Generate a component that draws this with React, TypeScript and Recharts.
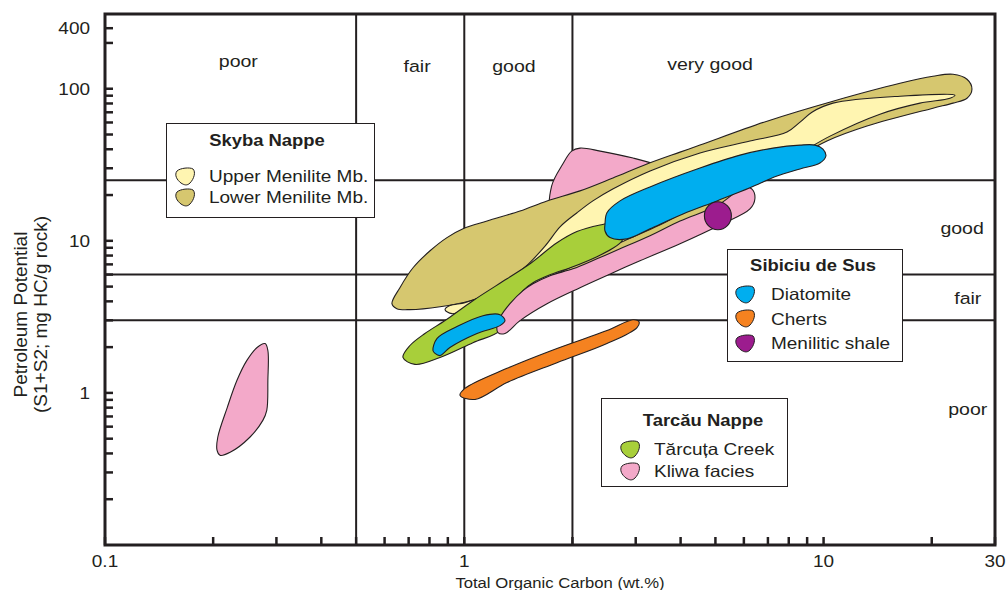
import React from 'react';
import { ScatterChart, Scatter, XAxis, YAxis, ReferenceLine, ReferenceArea } from 'recharts';

type Pt = [number, number];

const INK = '#231f20';
const FONT = "'Liberation Sans', Arial, Helvetica, sans-serif";
const WIDE = 1.15;

const COLORS = {
  upper: '#fff5b1',
  lower: '#d6c76f',
  diatomite: '#00aeef',
  cherts: '#f58220',
  shale: '#9c1c8e',
  tarcuta: '#a8cf3a',
  kliwa: '#f3a9c9',
};

// field outlines, TOC (wt.%) vs S1+S2 (mg HC/g rock)
const kliwaUpperLobe: Pt[] = [
  [1.99, 38.9], [2.1, 40.7], [2.39, 38.9], [2.95, 35.0], [3.5, 31.0], [4.25, 24.7],
  [3.29, 15.7], [2.1, 13.5], [1.75, 15.3], [1.75, 22.9], [1.88, 32.0],
];

const lowerMenilite: Pt[] = [
  [0.629, 3.86], [0.662, 4.92], [0.72, 6.65], [0.803, 8.6], [0.895, 10.5], [0.992, 12.0],
  [1.157, 13.5], [1.429, 15.7], [1.699, 18.3], [2.099, 21.3], [2.593, 25.9], [3.225, 32.0],
  [3.985, 38.3], [4.529, 42.6], [6.96, 61.2], [10.62, 82.8], [16.32, 108.6], [20.16, 120.8],
  [22.92, 124.5], [25.07, 115.4], [25.88, 99.2], [25.07, 86.6], [22.92, 80.4], [20.16, 74.5],
  [13.21, 56.8], [10.22, 45.3], [8.6, 36.1], [7.81, 31.0], [6.65, 25.5], [5.85, 21.3],
  [5.15, 17.0], [4.25, 13.1], [3.5, 10.3], [2.89, 8.6], [2.39, 7.39], [1.85, 6.17],
  [1.63, 5.81], [1.26, 4.7], [1.04, 4.04], [0.856, 3.69], [0.706, 3.53], [0.649, 3.58],
];

const upperMenilite: Pt[] = [
  [23.2, 90.7], [16.32, 89.3], [10.62, 80.4], [9.28, 70.1], [8.6, 60.3], [7.91, 51.9],
  [6.24, 45.3], [4.53, 37.8], [3.29, 28.8], [2.59, 21.9], [2.28, 18.3], [2.06, 15.3],
  [1.85, 12.4], [1.68, 9.27], [1.48, 6.75], [1.28, 5.22], [1.12, 4.3], [1.004, 3.92],
  [0.912, 3.75], [0.884, 3.53], [0.924, 3.32], [1.07, 3.69], [1.26, 4.36], [1.63, 5.47],
  [2.1, 7.17], [2.71, 9.7], [3.5, 12.7], [4.53, 17.5], [5.85, 23.6], [8.06, 34.5],
  [10.42, 48.8], [14.35, 68.0], [18.55, 80.4], [22.48, 86.6],
];

const tarcutaCreek: Pt[] = [
  [0.675, 1.71], [0.706, 2.05], [0.777, 2.46], [0.884, 2.99], [1.057, 4.04], [1.315, 5.63],
  [1.524, 7.07], [1.811, 9.7], [2.058, 11.5], [2.386, 12.7], [2.626, 13.1], [2.801, 12.0],
  [2.748, 10.0], [2.576, 8.86], [2.34, 7.86], [2.006, 6.75], [1.732, 5.98], [1.553, 5.3],
  [1.457, 4.7], [1.323, 3.37], [1.257, 2.57], [1.057, 2.14], [0.856, 1.71], [0.729, 1.54],
];

const kliwaBand: Pt[] = [
  [1.233, 2.77], [1.257, 3.13], [1.34, 3.86], [1.457, 4.7], [1.553, 5.22], [1.732, 5.9],
  [2.006, 6.55], [2.34, 7.62], [2.713, 8.86], [3.287, 10.8], [3.985, 13.5], [5.05, 17.0],
  [6.04, 22.6], [6.32, 21.9], [6.44, 18.9], [6.24, 16.2], [5.149, 12.7], [3.985, 9.56],
  [3.083, 7.39], [2.593, 6.17], [2.099, 4.92], [1.699, 3.86], [1.429, 2.99], [1.298, 2.46],
  [1.241, 2.49],
];

const diatomite: Pt[] = [
  [2.464, 12.9], [2.495, 15.3], [2.713, 18.3], [3.287, 22.6], [4.529, 30.1], [5.853, 36.6],
  [7.23, 40.7], [8.6, 42.6], [9.47, 42.6], [9.96, 40.1], [10.15, 36.1], [9.77, 32.5],
  [8.6, 29.7], [7.42, 26.7], [6.24, 22.3], [5.05, 18.3], [4.062, 15.0], [3.287, 12.0],
  [2.837, 10.3], [2.544, 10.5], [2.464, 11.6],
];

const diatomiteLow: Pt[] = [
  [0.818, 1.9], [0.84, 2.28], [0.954, 2.73], [1.127, 3.22], [1.257, 3.27], [1.298, 2.99],
  [1.257, 2.77], [1.085, 2.46], [0.912, 1.99], [0.856, 1.76], [0.829, 1.82],
];

const cherts: Pt[] = [
  [0.973, 0.963], [1.004, 1.07], [1.315, 1.45], [1.811, 1.96], [2.495, 2.57], [2.948, 3.03],
  [3.064, 2.94], [3.025, 2.69], [2.495, 2.11], [1.811, 1.58], [1.315, 1.17], [1.071, 0.906],
];

const kliwaLean: Pt[] = [
  [0.279, 2.11], [0.284, 1.9], [0.284, 1.21], [0.282, 0.768], [0.275, 0.66], [0.253, 0.511],
  [0.223, 0.407], [0.209, 0.389], [0.205, 0.42], [0.206, 0.511], [0.219, 0.804], [0.233, 1.21],
  [0.248, 1.63], [0.265, 1.99],
];

const meniliticShale: Pt[] = [[5.08, 14.6]];

// quality class limits
const TOC_LIMITS = [0.5, 1, 2];
const PP_LIMITS = [3, 6, 25];

const QUALITY_LABELS = [
  { x: 0.235, y: 149, text: 'poor' },
  { x: 0.739, y: 140, text: 'fair' },
  { x: 1.375, y: 140, text: 'good' },
  { x: 4.83, y: 143, text: 'very good' },
  { x: 24.3, y: 12.0, text: 'good' },
  { x: 25.2, y: 4.17, text: 'fair' },
  { x: 25.2, y: 0.768, text: 'poor' },
];

const X_TICKS = [0.1, 0.2, 0.3, 0.4, 0.5, 0.6, 0.7, 0.8, 0.9, 1, 2, 3, 4, 5, 6, 7, 8, 9, 10, 20, 30];
const X_LABELLED = [0.1, 1, 10, 30];
const X_TICK_LABELS = ['0.1', '1', '10', '30'];

const Y_TICKS = [
  0.2, 0.3, 0.4, 0.5, 0.6, 0.7, 0.8, 0.9, 1, 2, 3, 4, 5, 6, 7, 8, 9, 10,
  20, 30, 40, 50, 60, 70, 80, 90, 100, 200, 250,
];
const Y_LABELLED = [1, 10, 100, 250];
const Y_TICK_LABELS = ['1', '10', '100', '400'];

const toPoints = (pts: Pt[]) => pts.map(([x, y]) => ({ x, y }));

// closed centripetal Catmull-Rom outline through the projected points
function closedPath(points: { x: number; y: number }[]) {
  const n = points.length;
  if (!n) return '';
  const f = (v: number) => v.toFixed(2);
  let d = `M${f(points[0].x)},${f(points[0].y)}`;
  for (let i = 0; i < n; i++) {
    const p0 = points[(i + n - 1) % n];
    const p1 = points[i];
    const p2 = points[(i + 1) % n];
    const p3 = points[(i + 2) % n];
    const l01 = Math.max(Math.hypot(p1.x - p0.x, p1.y - p0.y), 1e-6);
    const l12 = Math.max(Math.hypot(p2.x - p1.x, p2.y - p1.y), 1e-6);
    const l23 = Math.max(Math.hypot(p3.x - p2.x, p3.y - p2.y), 1e-6);
    const a1 = Math.sqrt(l01), a2 = Math.sqrt(l12), a3 = Math.sqrt(l23);
    const m1 = 2 * l01 + 3 * a1 * a2 + l12;
    const n1 = 3 * a1 * (a1 + a2);
    const m2 = 2 * l23 + 3 * a3 * a2 + l12;
    const n2 = 3 * a3 * (a3 + a2);
    const c1x = (p2.x * l01 - p0.x * l12 + p1.x * m1) / n1;
    const c1y = (p2.y * l01 - p0.y * l12 + p1.y * m1) / n1;
    const c2x = (p1.x * l23 - p3.x * l12 + p2.x * m2) / n2;
    const c2y = (p1.y * l23 - p3.y * l12 + p2.y * m2) / n2;
    d += `C${f(c1x)},${f(c1y)} ${f(c2x)},${f(c2y)} ${f(p2.x)},${f(p2.y)}`;
  }
  return d + 'Z';
}

const fieldOutline = (fill: string) => (props: any) => (
  <path d={closedPath(props.points || [])} fill={fill} stroke={INK} strokeWidth={1.1} strokeLinejoin="round" />
);

const noMarker = () => <g />;

const WideText = ({ x, y, size, anchor = 'middle', weight = 'normal', children }: any) => (
  <text
    transform={`translate(${x},${y}) scale(${WIDE},1)`}
    textAnchor={anchor}
    fontSize={size}
    fontWeight={weight}
    fontFamily={FONT}
    fill={INK}
  >
    {children}
  </text>
);

const renderXTick = ({ x, y, payload }: any) => {
  const i = X_LABELLED.indexOf(payload.value);
  return (
    <g>
      <line x1={x} x2={x} y1={y} y2={y - 8} stroke={INK} strokeWidth={2.5} />
      {i >= 0 && <WideText x={x} y={y + 22} size={16.5}>{X_TICK_LABELS[i]}</WideText>}
    </g>
  );
};

const renderYTick = ({ x, y, payload }: any) => {
  const i = Y_LABELLED.indexOf(payload.value);
  return (
    <g>
      <line x1={x} x2={x + 8} y1={y} y2={y} stroke={INK} strokeWidth={2.5} />
      {i >= 0 && <WideText x={x - 15} y={y + 6} size={16.5} anchor="end">{Y_TICK_LABELS[i]}</WideText>}
    </g>
  );
};

const renderYTitle = ({ viewBox }: any) => {
  const cy = viewBox.y + viewBox.height / 2 + 35;
  return (
    <g fill={INK} fontFamily={FONT} fontSize={19}>
      <text transform={`translate(${viewBox.x - 18},${cy}) rotate(-90)`} textAnchor="middle">Petroleum Potential</text>
      <text transform={`translate(${viewBox.x + 2},${cy}) rotate(-90)`} textAnchor="middle">(S1+S2; mg HC/g rock)</text>
    </g>
  );
};

const renderXTitle = ({ viewBox }: any) => (
  <WideText x={viewBox.x + viewBox.width / 2 + 10} y={viewBox.y + 43} size={14.5}>
    Total Organic Carbon (wt.%)
  </WideText>
);

const renderQualityLabel = (p: any) => (
  <WideText x={p.cx} y={p.cy + 5} size={17}>{p.payload.text}</WideText>
);

const renderShale = (p: any) => (
  <ellipse cx={p.cx} cy={p.cy} rx={13.5} ry={14} fill={COLORS.shale} stroke={INK} strokeWidth={1.1} />
);

const ICON = 'M3,4 C6,1 16,0 19,2 C22,5 20,12 16,16 C13,19 10,18 7,16 C3,13 0,8 3,4 Z';

interface LegendItem { name: string; color: string }

const LegendBox = (p: {
  title: string; items: LegendItem[]; left: number; top: number; width: number; height: number;
  titleX: number; titleY: number; rowY: number; rowGap: number; iconX: number; textX: number;
}) => (
  <div
    style={{
      position: 'absolute', left: p.left, top: p.top, width: p.width, height: p.height,
      boxSizing: 'border-box', border: `1px solid ${INK}`, background: '#fff',
      fontFamily: FONT, color: INK, fontSize: 16,
    }}
  >
    <span
      style={{
        position: 'absolute', left: p.titleX, top: p.titleY - 10, lineHeight: '20px',
        fontWeight: 'bold', whiteSpace: 'nowrap', transform: `translateX(-50%) scaleX(${WIDE})`,
      }}
    >
      {p.title}
    </span>
    {p.items.map((it, i) => {
      const y = p.rowY + i * p.rowGap;
      return (
        <React.Fragment key={it.name}>
          <svg width={22} height={19} style={{ position: 'absolute', left: p.iconX, top: y - 9.5 }}>
            <path d={ICON} fill={it.color} stroke={INK} strokeWidth={1} />
          </svg>
          <span
            style={{
              position: 'absolute', left: p.textX, top: y - 10, lineHeight: '20px', whiteSpace: 'nowrap',
              fontSize: 16.5, transformOrigin: 'left center', transform: `scaleX(${WIDE})`,
            }}
          >
            {it.name}
          </span>
        </React.Fragment>
      );
    })}
  </div>
);

export default function App() {
  return (
    <div style={{ position: 'absolute', left: 0, top: 0, width: 1006, height: 590, background: '#fff' }}>
      <ScatterChart width={1006} height={590} margin={{ top: 14, right: 11, bottom: 15, left: 45 }}>
        <XAxis
          dataKey="x" type="number" scale="log" domain={[0.1, 30]} allowDataOverflow
          ticks={X_TICKS} interval={0} tickSize={0} tickMargin={0} tickLine={false} axisLine={false}
          tick={renderXTick} height={30} label={{ content: renderXTitle }}
        />
        <YAxis
          dataKey="y" type="number" scale="log" domain={[0.1, 310]} allowDataOverflow
          ticks={Y_TICKS} interval={0} tickSize={0} tickMargin={0} tickLine={false} axisLine={false}
          tick={renderYTick} width={60} label={{ content: renderYTitle }}
        />
        {TOC_LIMITS.map((v) => (
          <ReferenceLine key={`x${v}`} x={v} stroke={INK} strokeWidth={2} />
        ))}
        {PP_LIMITS.map((v) => (
          <ReferenceLine key={`y${v}`} y={v} stroke={INK} strokeWidth={2} />
        ))}
        <ReferenceArea x1={0.1} x2={30} y1={0.1} y2={310} fill="none" fillOpacity={0} stroke={INK} strokeWidth={3} />

        <Scatter data={toPoints(kliwaUpperLobe)} line={fieldOutline(COLORS.kliwa)} shape={noMarker} isAnimationActive={false} />
        <Scatter data={toPoints(lowerMenilite)} line={fieldOutline(COLORS.lower)} shape={noMarker} isAnimationActive={false} />
        <Scatter data={toPoints(upperMenilite)} line={fieldOutline(COLORS.upper)} shape={noMarker} isAnimationActive={false} />
        <Scatter data={toPoints(tarcutaCreek)} line={fieldOutline(COLORS.tarcuta)} shape={noMarker} isAnimationActive={false} />
        <Scatter data={toPoints(kliwaBand)} line={fieldOutline(COLORS.kliwa)} shape={noMarker} isAnimationActive={false} />
        <Scatter data={toPoints(diatomite)} line={fieldOutline(COLORS.diatomite)} shape={noMarker} isAnimationActive={false} />
        <Scatter data={toPoints(diatomiteLow)} line={fieldOutline(COLORS.diatomite)} shape={noMarker} isAnimationActive={false} />
        <Scatter data={toPoints(cherts)} line={fieldOutline(COLORS.cherts)} shape={noMarker} isAnimationActive={false} />
        <Scatter data={toPoints(kliwaLean)} line={fieldOutline(COLORS.kliwa)} shape={noMarker} isAnimationActive={false} />
        <Scatter data={toPoints(meniliticShale)} shape={renderShale} isAnimationActive={false} />
        <Scatter data={QUALITY_LABELS} shape={renderQualityLabel} isAnimationActive={false} />
      </ScatterChart>

      <LegendBox
        title="Skyba Nappe" left={166} top={123} width={209} height={95}
        titleX={100} titleY={17} rowY={52} rowGap={21} iconX={7} textX={42}
        items={[
          { name: 'Upper Menilite Mb.', color: COLORS.upper },
          { name: 'Lower Menilite Mb.', color: COLORS.lower },
        ]}
      />
      <LegendBox
        title="Sibiciu de Sus" left={727} top={249} width={176} height={113}
        titleX={85} titleY={16} rowY={44} rowGap={24.5} iconX={6} textX={43}
        items={[
          { name: 'Diatomite', color: COLORS.diatomite },
          { name: 'Cherts', color: COLORS.cherts },
          { name: 'Menilitic shale', color: COLORS.shale },
        ]}
      />
      <LegendBox
        title="Tarcău Nappe" left={601} top={398} width={187} height={89}
        titleX={101} titleY={22} rowY={50} rowGap={22} iconX={17} textX={52}
        items={[
          { name: 'Tărcuța Creek', color: COLORS.tarcuta },
          { name: 'Kliwa facies', color: COLORS.kliwa },
        ]}
      />
    </div>
  );
}
